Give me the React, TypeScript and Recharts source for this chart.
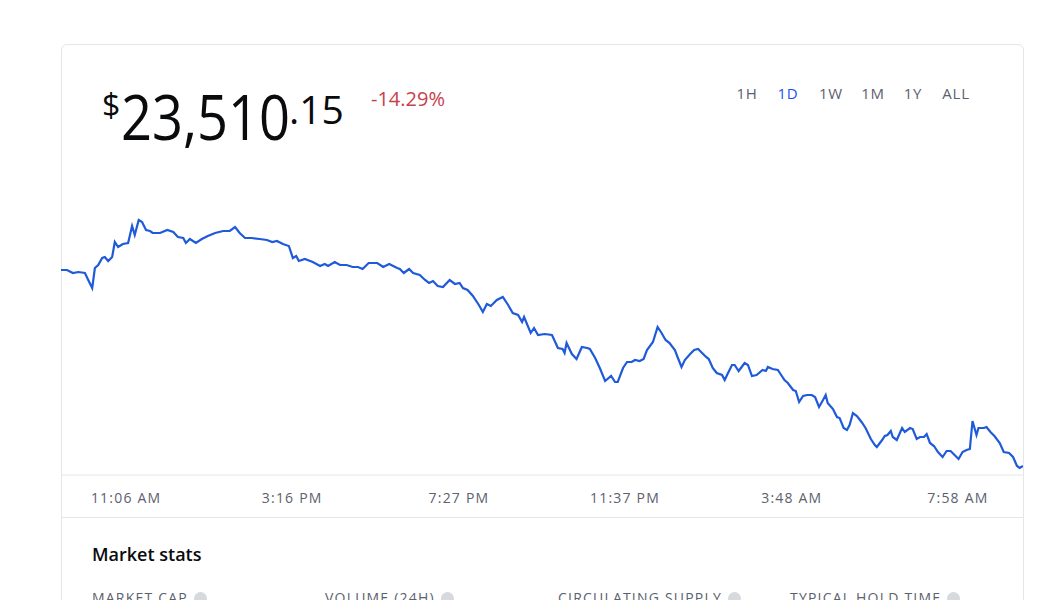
import React from "react";
import { LineChart, Line, XAxis, YAxis } from "recharts";

// minutes since midnight of the first day (9:28 AM start, 24h window)
const times = [
  568, 577, 586, 594, 604, 609, 615, 619, 624, 630, 634, 639, 645, 649, 654, 661, 669, 675, 679, 685,
  690, 696, 702, 706, 717, 728, 737, 744, 752, 756, 762, 771, 780, 789, 800, 812, 822, 830, 837, 845,
  855, 867, 878, 886, 893, 902, 911, 917, 922, 926, 935, 947, 958, 965, 970, 980, 988, 998, 1007, 1015,
  1022, 1031, 1044, 1053, 1062, 1074, 1078, 1084, 1092, 1098, 1108, 1116, 1122, 1128, 1135, 1143, 1153, 1161, 1168, 1173,
  1180, 1188, 1197, 1203, 1209, 1215, 1224, 1233, 1241, 1248, 1256, 1262, 1265, 1275, 1280, 1286, 1296, 1307, 1316, 1323,
  1326, 1329, 1337, 1344, 1352, 1360, 1364, 1372, 1379, 1387, 1396, 1402, 1406, 1414, 1420, 1427, 1432, 1439, 1445, 1450,
  1459, 1466, 1472, 1478, 1484, 1492, 1496, 1502, 1507, 1515, 1521, 1527, 1533, 1539, 1543, 1549, 1555, 1563, 1567, 1572,
  1578, 1582, 1588, 1597, 1602, 1608, 1615, 1624, 1629, 1632, 1639, 1647, 1653, 1657, 1662, 1670, 1674, 1679, 1685, 1691,
  1698, 1703, 1709, 1715, 1719, 1722, 1730, 1736, 1740, 1746, 1751, 1755, 1760, 1766, 1773, 1779, 1787, 1793, 1796, 1804,
  1808, 1812, 1817, 1820, 1826, 1834, 1838, 1846, 1850, 1856, 1861, 1867, 1871, 1876, 1882, 1888, 1895, 1901, 1907, 1913,
  1919, 1925, 1931, 1936, 1940, 1946, 1949, 1957, 1961, 1967, 1973, 1981, 1987, 1995, 2001, 2007, 2011, 2016,
];

const prices = [
  27430, 27430, 27370, 27390, 27370, 27230, 27070, 27470, 27530, 27670, 27690, 27610, 27690, 27990, 27890, 27950, 27970, 28310, 28130, 28430,
  28390, 28230, 28210, 28170, 28170, 28230, 28190, 28090, 28070, 27970, 28050, 27970, 28050, 28110, 28170, 28210, 28210, 28290, 28170, 28070,
  28070, 28050, 28030, 27990, 28010, 27950, 27910, 27670, 27710, 27610, 27650, 27590, 27510, 27550, 27510, 27590, 27530, 27530, 27490, 27490,
  27450, 27570, 27570, 27490, 27550, 27470, 27450, 27370, 27450, 27370, 27330, 27230, 27170, 27210, 27110, 27090, 27230, 27150, 27170, 27070,
  27030, 26910, 26730, 26590, 26750, 26710, 26830, 26890, 26730, 26570, 26530, 26390, 26490, 26170, 26270, 26130, 26150, 26130, 25870, 25850,
  25770, 25970, 25750, 25650, 25890, 25870, 25850, 25670, 25470, 25210, 25310, 25190, 25190, 25470, 25590, 25590, 25630, 25610, 25650, 25830,
  25990, 26290, 26170, 26030, 25970, 25830, 25690, 25490, 25630, 25750, 25830, 25850, 25770, 25690, 25650, 25470, 25370, 25330, 25230, 25370,
  25530, 25530, 25410, 25570, 25530, 25310, 25330, 25430, 25410, 25490, 25450, 25430, 25310, 25230, 25170, 25030, 25010, 24790, 24910, 24930,
  24930, 24890, 24690, 24830, 24930, 24770, 24650, 24490, 24470, 24270, 24230, 24330, 24570, 24510, 24390, 24270, 24050, 23930, 23890, 24030,
  24110, 24130, 24210, 24090, 24030, 24270, 24190, 24270, 24250, 24050, 24090, 24090, 24150, 23970, 23910, 23790, 23690, 23810, 23810, 23730,
  23650, 23790, 23830, 23850, 24410, 24130, 24270, 24270, 24290, 24190, 24110, 23970, 23790, 23770, 23690, 23510, 23470, 23510,
];

const tickTimes = [666, 916, 1167, 1417, 1668, 1918];
const ranges = ["1H", "1D", "1W", "1M", "1Y", "ALL"];
const rangeCenters = [747, 788, 831, 873, 913, 956];
const statLabels = ["MARKET CAP", "VOLUME (24H)", "CIRCULATING SUPPLY", "TYPICAL HOLD TIME"];
const statLefts = [92, 325, 558, 790];

const data = times.map((t, i) => ({ t, price: prices[i] }));

const fmtTime = (m: number) => {
  const mm = m % 1440;
  const h = Math.floor(mm / 60);
  const min = mm % 60;
  return `${h % 12 || 12}:${String(min).padStart(2, "0")} ${h >= 12 ? "PM" : "AM"}`;
};

const FONT = "'Open Sans', 'Noto Sans', sans-serif";
const GRAY = "#5b616e";
const LINE = "#e4e6e9";

export default function App() {
  return (
    <div
      style={{
        position: "absolute",
        left: 0,
        top: 0,
        width: 1050,
        height: 600,
        overflow: "hidden",
        background: "#fff",
        fontFamily: FONT,
      }}
    >
      {/* card */}
      <div
        style={{
          position: "absolute",
          left: 61,
          top: 44,
          width: 963,
          height: 620,
          border: `1px solid ${LINE}`,
          borderRadius: 6,
          boxSizing: "border-box",
        }}
      />
      <div style={{ position: "absolute", left: 61, top: 517, width: 963, height: 1, background: LINE }} />

      {/* price header */}
      <span style={{ position: "absolute", left: 102, top: 89, fontSize: 32, lineHeight: 1, color: "#0a0b0d" }}>$</span>
      <span
        style={{
          position: "absolute",
          left: 121,
          top: 85,
          fontSize: 62,
          lineHeight: 1,
          color: "#0a0b0d",
          transform: "scaleX(0.875)",
          transformOrigin: "left top",
        }}
      >
        23,510
      </span>
      <span style={{ position: "absolute", left: 289, top: 89, fontSize: 39, lineHeight: 1, color: "#0a0b0d" }}>.15</span>
      <span style={{ position: "absolute", left: 371, top: 89, fontSize: 20, lineHeight: 1, color: "#c8414d" }}>-14.29%</span>

      {ranges.map((r, i) => (
        <span
          key={r}
          style={{
            position: "absolute",
            left: rangeCenters[i] - 30,
            width: 60,
            textAlign: "center",
            top: 86,
            fontSize: 15,
            lineHeight: 1,
            fontWeight: 500,
            letterSpacing: 0.8,
            color: r === "1D" ? "#1652f0" : GRAY,
          }}
        >
          {r}
        </span>
      ))}

      <div style={{ position: "absolute", left: 61, top: 150 }}>
        <LineChart width={962} height={368} data={data} margin={{ top: 70, right: 0, bottom: 0, left: 0 }}>
          <XAxis
            dataKey="t"
            type="number"
            domain={[568, 2016]}
            ticks={tickTimes}
            interval={0}
            tickFormatter={fmtTime}
            height={43}
            axisLine={{ stroke: LINE }}
            tickLine={false}
            tickMargin={12}
            tick={{ fill: GRAY, fontSize: 14, fontFamily: FONT, letterSpacing: 1.2 }}
          />
          <YAxis hide domain={[23330, 28430]} />
          <Line
            type="linear"
            dataKey="price"
            stroke="#1e5ad9"
            strokeWidth={2.2}
            dot={false}
            isAnimationActive={false}
          />
        </LineChart>
      </div>

      <span style={{ position: "absolute", left: 92, top: 545, fontSize: 18, fontWeight: 600, lineHeight: 1, color: "#0a0b0d" }}>
        Market stats
      </span>

      {statLabels.map((s, i) => (
        <span
          key={s}
          style={{
            position: "absolute",
            left: statLefts[i],
            top: 591,
            fontSize: 14,
            lineHeight: 1,
            letterSpacing: 1.2,
            color: GRAY,
            whiteSpace: "nowrap",
            display: "flex",
            alignItems: "center",
            gap: 6,
          }}
        >
          {s}
          <span style={{ width: 13, height: 13, borderRadius: "50%", background: "#d6d9de", display: "inline-block" }} />
        </span>
      ))}
    </div>
  );
}
